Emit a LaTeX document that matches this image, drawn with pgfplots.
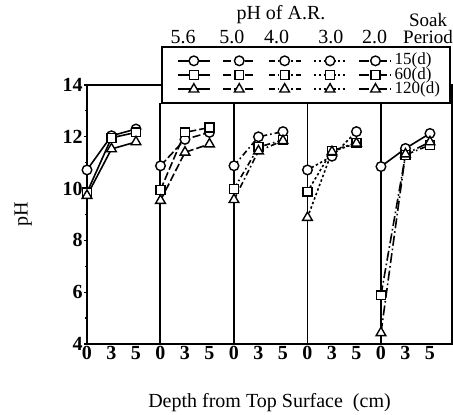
\documentclass[border=0pt]{standalone}
\usepackage{fontspec}
\setmainfont{Liberation Serif}
\usepackage{pgfplots}
\pgfplotsset{compat=1.18}

% one panel per acid-rain pH, three soak periods each; depth slots 0,1,2 inside a panel
\pgfplotsset{
  base/.style={black, line width=0.8pt, mark size=2.4pt,
    mark options={solid, fill=white, line width=0.7pt}},
  d15/.style={base, mark=*},
  d60/.style={base, mark=square*, mark size=2.2pt},
  d120/.style={base, mark=triangle*, mark size=2.8pt},
  pA/.style={solid},
  pB/.style={dash pattern=on 4pt off 1.5pt},
  pC/.style={dash pattern=on 3pt off 1.5pt on 0.8pt off 1.5pt},
  pD/.style={dash pattern=on 1.2pt off 1.2pt},
  pE/.style={dash pattern=on 5pt off 1.5pt on 0.8pt off 1.5pt},
}

\begin{document}
\begin{tikzpicture}
\begin{axis}[
    scale only axis,
    width=182.5pt, height=129.5pt,
    xmin=0, xmax=14.9,
    ymin=4, ymax=14,
    clip=false,
    axis line style={line width=0.8pt},
    xtick={0,1,2,3,4,5,6,7,8,9,10,11,12,13,14},
    xticklabels={0,3,5,0,3,5,0,3,5,0,3,5,0,3,5},
    xtick style={draw=none},
    ytick={4,6,8,10,12,14},
    minor y tick num=1,
    ytick pos=left,
    tick align=outside,
    major tick length=1.5pt, minor tick length=1pt,
    tick style={black, line width=0.6pt},
    /pgf/number format/assume math mode=true,
    ticklabel style={font=\fontsize{10}{10}\selectfont\bfseries},
    xticklabel style={inner ysep=0.5pt, yshift=1pt},
    yticklabel style={inner xsep=0.5pt},
    xlabel={Depth from Top Surface\ \ (cm)},
    ylabel={pH},
    label style={font=\fontsize{9.5}{10}\selectfont},
    every axis x label/.style={at={(axis description cs:0.5,-0.228)}, anchor=center},
    every axis y label/.style={at={(axis description cs:-0.175,0.5)}, anchor=center, rotate=90},
    legend image code/.code={
      \draw[mark repeat=2, mark phase=2] plot coordinates {(0pt,0pt) (8pt,0pt) (16pt,0pt)};
    },
    legend columns=5,
    legend style={at={(axis cs:3.66,15.18)}, anchor=north west, draw=none, fill=none,
      font=\fontsize{8.5}{8.5}\selectfont, inner sep=0pt, row sep=1.1pt,
      nodes={inner sep=0pt, text height=5pt, text depth=1pt},
      /tikz/every even column/.append style={column sep=3.7pt},
      /tikz/every odd column/.append style={column sep=1.2pt},
      cells={anchor=west}},
]
% panel separators
\draw[line width=1pt] (axis cs:3,4) -- (axis cs:3,13.32);
\draw[line width=0.6pt] (axis cs:6,4) -- (axis cs:6,13.32);
\draw[line width=0.6pt] (axis cs:9,4) -- (axis cs:9,13.32);
\draw[line width=1pt] (axis cs:12,4) -- (axis cs:12,13.32);

% pH 5.6
\addplot[d15,pA,forget plot]  coordinates {(0,10.72) (1,12.04) (2,12.30)};
\addplot[d60,pA,forget plot]  coordinates {(0,9.85) (1,11.96) (2,12.17)};
\addplot[d120,pA,forget plot] coordinates {(0,9.73) (1,11.53) (2,11.80)};
% pH 5.0
\addplot[d15,pB,forget plot]  coordinates {(3,10.88) (4,11.90) (5,12.17)};
\addplot[d60,pB,forget plot]  coordinates {(3,9.95) (4,12.17) (5,12.36)};
\addplot[d120,pB,forget plot] coordinates {(3,9.54) (4,11.40) (5,11.72)};
% pH 4.0
\addplot[d15,pC,forget plot]  coordinates {(6,10.88) (7,12.00) (8,12.20)};
\addplot[d60,pC,forget plot]  coordinates {(6,9.99) (7,11.60) (8,11.88)};
\addplot[d120,pC,forget plot] coordinates {(6,9.57) (7,11.45) (8,11.85)};
% pH 3.0
\addplot[d15,pD,forget plot]  coordinates {(9,10.72) (10,11.25) (11,12.20)};
\addplot[d60,pD,forget plot]  coordinates {(9,9.88) (10,11.46) (11,11.77)};
\addplot[d120,pD,forget plot] coordinates {(9,8.88) (10,11.42) (11,11.75)};
% pH 2.0
\addplot[d15,pA,forget plot]  coordinates {(12,10.85) (13,11.55) (14,12.13)};
\addplot[d60,pE,forget plot]  coordinates {(12,5.88) (13,11.30) (14,11.68)};
\addplot[d120,pE,forget plot] coordinates {(12,4.43) (13,11.33) (14,11.80)};

% legend frame and headings
\draw[line width=1pt, fill=white] (axis cs:3.05,13.32) rectangle (axis cs:14.80,15.48);
\node[font=\fontsize{10}{10}\selectfont] at (axis cs:7.92,16.70) {pH of A.R.};
\node[font=\fontsize{10}{10}\selectfont] at (axis cs:3.92,15.86) {5.6};
\node[font=\fontsize{10}{10}\selectfont] at (axis cs:5.91,15.86) {5.0};
\node[font=\fontsize{10}{10}\selectfont] at (axis cs:7.74,15.86) {4.0};
\node[font=\fontsize{10}{10}\selectfont] at (axis cs:9.96,15.86) {3.0};
\node[font=\fontsize{10}{10}\selectfont] at (axis cs:11.74,15.86) {2.0};
\node[font=\fontsize{9.5}{10}\selectfont, inner sep=0pt] at (axis cs:13.92,16.50) {Soak};
\node[font=\fontsize{9.5}{10}\selectfont, inner sep=0pt] at (axis cs:13.92,15.86) {Period};

\addlegendimage{d15,pA}\addlegendentry{}
\addlegendimage{d15,pB}\addlegendentry{}
\addlegendimage{d15,pC}\addlegendentry{}
\addlegendimage{d15,pD}\addlegendentry{}
\addlegendimage{d15,pE}\addlegendentry{15(d)}
\addlegendimage{d60,pA}\addlegendentry{}
\addlegendimage{d60,pB}\addlegendentry{}
\addlegendimage{d60,pC}\addlegendentry{}
\addlegendimage{d60,pD}\addlegendentry{}
\addlegendimage{d60,pE}\addlegendentry{60(d)}
\addlegendimage{d120,pA}\addlegendentry{}
\addlegendimage{d120,pB}\addlegendentry{}
\addlegendimage{d120,pC}\addlegendentry{}
\addlegendimage{d120,pD}\addlegendentry{}
\addlegendimage{d120,pE}\addlegendentry{120(d)}

\coordinate (SW) at (rel axis cs:0,0);
\coordinate (NE) at (rel axis cs:1,1);
\end{axis}
\pgfresetboundingbox
\path[use as bounding box] ([xshift=-43.5pt,yshift=-35.5pt]SW) rectangle ([xshift=0.5pt,yshift=42.5pt]NE);
\end{tikzpicture}
\end{document}
